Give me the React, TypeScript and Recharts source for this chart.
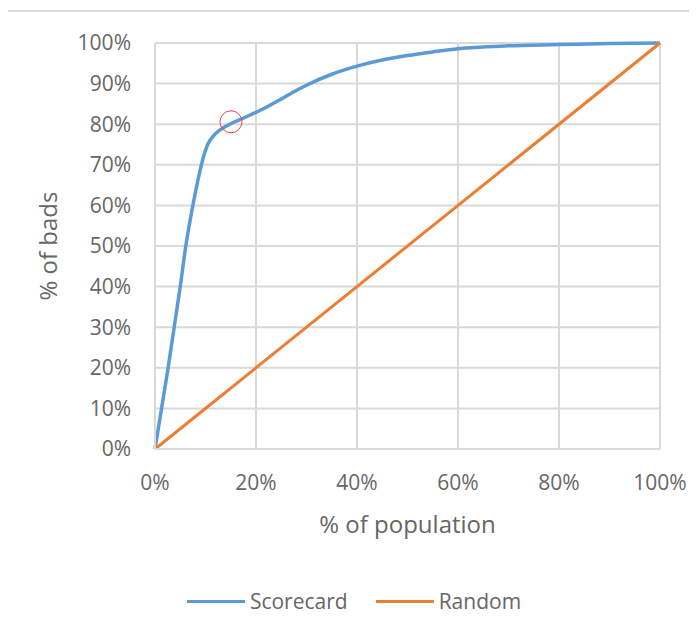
import {
  LineChart,
  Line,
  XAxis,
  YAxis,
  CartesianGrid,
  Legend,
  ReferenceDot,
} from 'recharts'

// % of population (x) vs % of bads (y)
const scorecardX = [
  0, 1.3, 2.6, 3.8, 5, 6.1, 7.5, 9, 9.6, 10.5, 11.5, 12.9, 15, 17.5, 20, 22.5,
  25, 27.5, 30, 35, 40, 45, 50, 55, 60, 70, 80, 90, 100,
]
const scorecardY = [
  0, 10, 20, 30, 40, 50, 60, 69, 72, 75.2, 77, 78.6, 80.1, 81.5, 82.9, 84.5,
  86.2, 88, 89.6, 92.3, 94.3, 95.8, 96.9, 97.8, 98.6, 99.3, 99.6, 99.9, 100,
]
const randomX = [0, 100]
const randomY = [0, 100]

const xTicks = [0, 20, 40, 60, 80, 100]
const yTicks = [0, 10, 20, 30, 40, 50, 60, 70, 80, 90, 100]

const seriesNames = ['Scorecard', 'Random']
const seriesColors = ['#5b9bd5', '#ed7d31']

const scorecardData = scorecardX.map((x, i) => ({ x, y: scorecardY[i] }))
const randomData = randomX.map((x, i) => ({ x, y: randomY[i] }))

const FONT = '"Open Sans", sans-serif'
const TEXT = '#666666'
const GRID = '#d9d9d9'

const pct = (v: number) => `${v}%`

function YTitle(props: any) {
  const vb = props.viewBox || {}
  const cx = 39
  const cy = vb.y + vb.height / 2
  return (
    <text
      x={cx}
      y={cy}
      transform={`rotate(-90 ${cx} ${cy})`}
      textAnchor="middle"
      dominantBaseline="central"
      fill={TEXT}
      fontSize={24}
      fontFamily={FONT}
    >
      % of bads
    </text>
  )
}

function XTitle(props: any) {
  const vb = props.viewBox || {}
  return (
    <text
      x={vb.x + vb.width / 2}
      y={vb.y + 74}
      textAnchor="middle"
      dominantBaseline="central"
      fill={TEXT}
      fontSize={24}
      fontFamily={FONT}
    >
      % of population
    </text>
  )
}

function LegendBox() {
  return (
    <div
      style={{
        height: 40,
        display: 'flex',
        alignItems: 'center',
        justifyContent: 'center',
        paddingLeft: 40,
        fontFamily: FONT,
        fontSize: 21,
        color: TEXT,
      }}
    >
      {seriesNames.map((name, i) => (
        <div
          key={name}
          style={{ display: 'flex', alignItems: 'center', marginRight: i === 0 ? 28 : 0 }}
        >
          <span
            style={{
              display: 'inline-block',
              width: 58,
              height: 3,
              background: seriesColors[i],
              marginRight: 5,
            }}
          />
          <span>{name}</span>
        </div>
      ))}
    </div>
  )
}

export default function App() {
  return (
    <div style={{ position: 'relative', width: 681, height: 619 }}>
      <div
        style={{
          position: 'absolute',
          top: 2,
          left: 0,
          width: 689,
          height: 2,
          background: '#dcdcdc',
        }}
      />
      <LineChart
        width={681}
        height={619}
        margin={{ top: 35, right: 29, left: 0, bottom: 6 }}
      >
        <CartesianGrid stroke={GRID} strokeWidth={2} />
        <XAxis
          type="number"
          dataKey="x"
          domain={[0, 100]}
          ticks={xTicks}
          tickFormatter={pct}
          height={132}
          tickLine={false}
          tickSize={0}
          tickMargin={26}
          axisLine={{ stroke: GRID, strokeWidth: 2 }}
          tick={{ fill: TEXT, fontSize: 21, fontFamily: FONT }}
          allowDuplicatedCategory={false}
          label={{ content: <XTitle /> }}
        />
        <YAxis
          type="number"
          dataKey="y"
          domain={[0, 100]}
          ticks={yTicks}
          tickFormatter={pct}
          width={147}
          tickLine={false}
          tickSize={0}
          tickMargin={24}
          axisLine={{ stroke: GRID, strokeWidth: 2 }}
          tick={{ fill: TEXT, fontSize: 21, fontFamily: FONT }}
          label={{ content: <YTitle /> }}
        />
        <Legend verticalAlign="bottom" content={<LegendBox />} />
        <Line
          data={scorecardData}
          dataKey="y"
          name={seriesNames[0]}
          type="monotone"
          stroke={seriesColors[0]}
          strokeWidth={3.5}
          dot={false}
          isAnimationActive={false}
        />
        <Line
          data={randomData}
          dataKey="y"
          name={seriesNames[1]}
          type="linear"
          stroke={seriesColors[1]}
          strokeWidth={3}
          dot={false}
          isAnimationActive={false}
        />
        <ReferenceDot
          x={15.05}
          y={80.6}
          r={11}
          fill="none"
          stroke="#e8474c"
          strokeWidth={1}
        />
      </LineChart>
    </div>
  )
}
